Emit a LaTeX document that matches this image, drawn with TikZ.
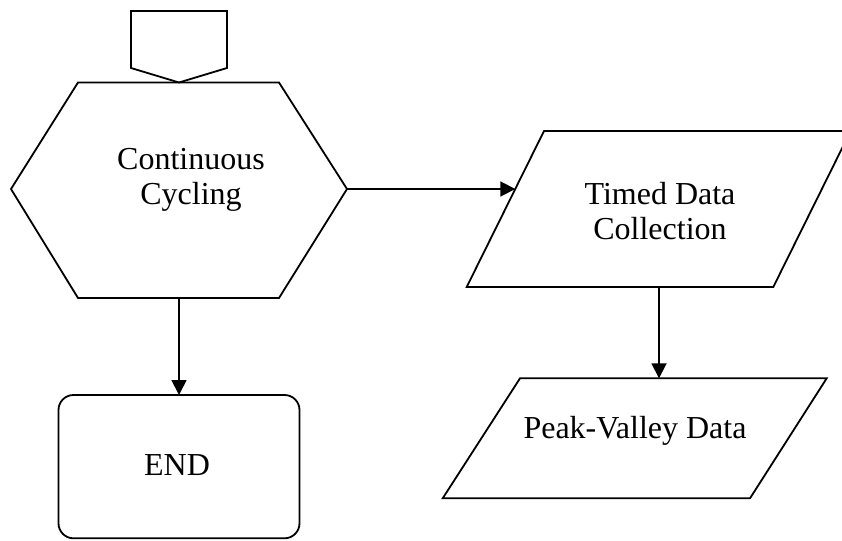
\documentclass[tikz,border=0pt]{standalone}
\usepackage{fontspec}
\setmainfont{Liberation Serif}
\usetikzlibrary{arrows.meta}
\begin{document}
\begin{tikzpicture}[x=1pt,y=-1pt,
  outline/.style={draw=black,line width=1.8pt,line join=miter},
  flow/.style={draw=black,line width=1.8pt,-{Triangle[length=15pt,width=15pt]}},
  txt/.style={font=\fontsize{32}{35}\selectfont,align=center,inner sep=0pt}]
\useasboundingbox (0,0) rectangle (842,540);
\begin{scope}
\clip (0,0) rectangle (842,540);
% off-page connector feeding the hexagon
\draw[outline] (131,11) -- (227,11) -- (227,68) -- (179,82.5) -- (131,68) -- cycle;
% preparation hexagon
\draw[outline] (11,189) -- (78,82.5) -- (279,82.5) -- (347,189) -- (279,298) -- (78,298) -- cycle;
% data parallelograms
\draw[outline] (544,131) -- (850.6,131) -- (773.3,287) -- (466.7,287) -- cycle;
\draw[outline] (520,378.3) -- (826.7,378.3) -- (750,498.3) -- (442.7,498.3) -- cycle;
% terminator
\draw[outline,rounded corners=15pt] (58.5,395) rectangle (299.5,538.3);
\end{scope}

% connection points on the outlines
\coordinate (hexE) at (347,189);
\coordinate (hexS) at (179,298);
\coordinate (tdcW) at (515.3,189);
\coordinate (tdcS) at (659,287);
\coordinate (pvdN) at (659,378.3);
\coordinate (endN) at (179,395);

% labels (base anchor sits on the last line)
\node[txt,anchor=base] (cc) at (191,204) {Continuous\\Cycling};
\node[txt,anchor=base] (tdc) at (660,239) {Timed Data\\Collection};
\node[txt,anchor=base] (pvd) at (635,438) {Peak-Valley Data};
\node[txt,anchor=base] (end) at (177,475) {END};

% connectors
\draw[flow] (hexE) -- (tdcW);
\draw[flow] (tdcS) -- (pvdN);
\draw[flow] (hexS) -- (endN);
\end{tikzpicture}
\end{document}
